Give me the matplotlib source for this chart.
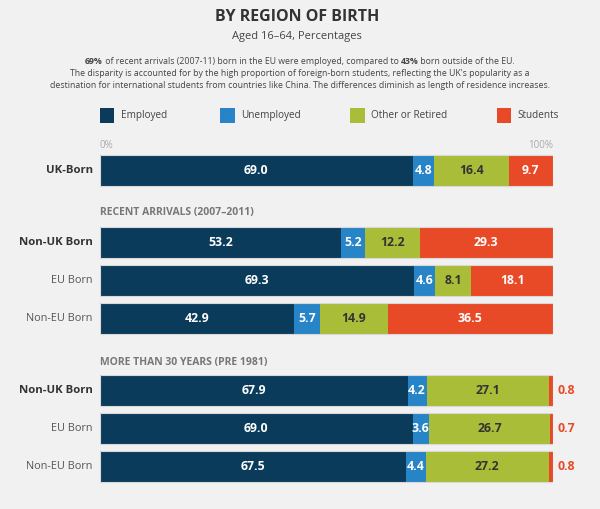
import matplotlib.pyplot as plt
import matplotlib.patches as mpatches

plt.rcParams['font.family'] = ['Open Sans', 'DejaVu Sans']

# --- data ---
categories = ["Employed", "Unemployed", "Other or Retired", "Students"]
colors = ["#0b3b5b", "#2784c6", "#a9bd38", "#e84a27"]
text_colors = ["white", "white", "#333333", "white"]

row_labels = ["UK-Born", "Non-UK Born", "EU Born", "Non-EU Born",
              "Non-UK Born", "EU Born", "Non-EU Born"]
row_bold = [True, True, False, False, True, False, False]
employed = [69.0, 53.2, 69.3, 42.9, 67.9, 69.0, 67.5]
unemployed = [4.8, 5.2, 4.6, 5.7, 4.2, 3.6, 4.4]
other = [16.4, 12.2, 8.1, 14.9, 27.1, 26.7, 27.2]
students = [9.7, 29.3, 18.1, 36.5, 0.8, 0.7, 0.8]

sections = ["RECENT ARRIVALS (2007–2011)", "MORE THAN 30 YEARS (PRE 1981)"]

# first intro line, split into (text, bold) pieces
intro_parts = [("69%", True),
               (" of recent arrivals (2007-11) born in the EU were employed, compared to ", False),
               ("43%", True),
               (" born outside of the EU.", False)]
intro_lines = [
    "The disparity is accounted for by the high proportion of foreign-born "
    "students, reflecting the UK's popularity as a",
    "destination for international students from countries like China. "
    "The differences diminish as length of residence increases.",
]

# pixel layout
row_y = [170.5, 242.5, 280.5, 318.5, 390.5, 428.5, 466.5]
section_y = [212, 362]
bar_h = 31

W, H = 600, 509
fig = plt.figure(figsize=(6, 5.09), dpi=100, facecolor="#f1f1f1")
ax = fig.add_axes([100 / W, 0, 453 / W, 1])
ax.set_facecolor("none")
ax.set_xlim(0, 100)
ax.set_ylim(H, 0)
ax.axis("off")

series = [employed, unemployed, other, students]
for i, y in enumerate(row_y):
    left = 0
    for k, vals in enumerate(series):
        v = vals[i]
        ax.barh(y, v, left=left, height=bar_h, color=colors[k],
                edgecolor="none")
        if v >= 2:
            ax.text(left + v / 2, y, f"{v:.1f}", ha="center", va="center",
                    color=text_colors[k], fontsize=8.8, fontweight="bold")
        else:
            ax.text(left + v + 1.0, y, f"{v:.1f}", ha="left", va="center",
                    color=colors[3], fontsize=8.8, fontweight="bold",
                    clip_on=False)
        left += v
    ax.add_patch(mpatches.Rectangle((0, y - bar_h / 2), 100, bar_h,
                                    fill=False, edgecolor="#d8d8d8", lw=0.8))
    ax.text(-1.6, y, row_labels[i], ha="right", va="center",
            fontsize=8.2 if row_bold[i] else 7.8,
            fontweight="bold" if row_bold[i] else "normal",
            color="#333333" if row_bold[i] else "#555555", clip_on=False)

for s, y in zip(sections, section_y):
    ax.text(0, y, s, ha="left", va="center", fontsize=7.5,
            fontweight="bold", color="#777777")

ax.text(0, 145, "0%", ha="left", va="center", fontsize=7, color="#aaaaaa")
ax.text(100, 145, "100%", ha="right", va="center", fontsize=7,
        color="#aaaaaa")

# legend
leg_x = [0, 26.5, 55.2, 87.6]
for k, name in enumerate(categories):
    ax.add_patch(mpatches.Rectangle((leg_x[k], 108), 3.2, 15,
                                    facecolor=colors[k], edgecolor="none"))
    ax.text(leg_x[k] + 4.6, 115.5, name, ha="left", va="center",
            fontsize=7.2, color="#444444")

# titles
fig.text(0.495, 1 - 17 / H, "BY REGION OF BIRTH", ha="center", va="center",
         fontsize=11.5, fontweight="bold", color="#333333")
fig.text(0.495, 1 - 36 / H, "Aged 16–64, Percentages", ha="center",
         va="center", fontsize=8, color="#444444")

# intro line 1: lay out the pieces side by side, then centre them
renderer = fig.canvas.get_renderer()
pieces = []
x = 0.0
for txt, bold in intro_parts:
    t = fig.text(x, 1 - 62 / H, txt, ha="left", va="center", fontsize=6.3,
                 fontweight="bold" if bold else "normal", color="#444444")
    w = t.get_window_extent(renderer).width / W
    pieces.append((t, x))
    x += w
start = 0.5 - x / 2
for t, off in pieces:
    t.set_x(start + off)

for j, line in enumerate(intro_lines):
    fig.text(0.5, 1 - (74 + 11 * j) / H, line, ha="center", va="center",
             fontsize=6.3, color="#444444")

fig.savefig("out.png", dpi=100, facecolor=fig.get_facecolor())
